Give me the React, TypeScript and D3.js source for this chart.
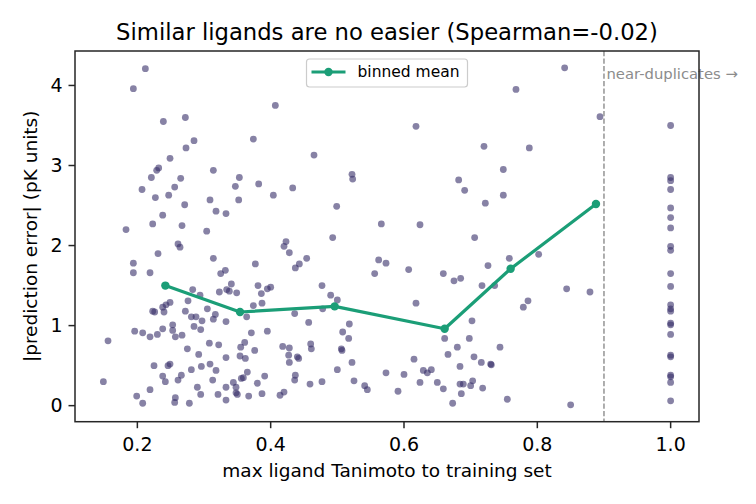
import React from 'react';
import * as d3 from 'd3';

// max ligand Tanimoto to training set (x) for the non-duplicate ligands
const tanimoto = [
  0.212, 0.194, 0.407, 0.239, 0.272, 0.374, 0.285, 0.273, 0.249, 0.465,
  0.232, 0.229, 0.314, 0.221, 0.265, 0.353, 0.522, 0.523, 0.207, 0.256,
  0.347, 0.382, 0.433, 0.227, 0.247, 0.309, 0.352, 0.404, 0.271, 0.499,
  0.318, 0.333, 0.238, 0.223, 0.267, 0.566, 0.183, 0.304, 0.493, 0.261,
  0.264, 0.423, 0.420, 0.428, 0.231, 0.314, 0.454, 0.443, 0.437, 0.377,
  0.562, 0.573, 0.194, 0.194, 0.219, 0.332, 0.325, 0.556, 0.341, 0.381,
  0.400, 0.395, 0.386, 0.334, 0.338, 0.323, 0.349, 0.283, 0.294, 0.477,
  0.490, 0.500, 0.276, 0.249, 0.243, 0.238, 0.240, 0.226, 0.223, 0.272,
  0.281, 0.288, 0.305, 0.317, 0.314, 0.297, 0.333, 0.374, 0.387, 0.364,
  0.436, 0.478, 0.457, 0.518, 0.238, 0.253, 0.196, 0.208, 0.230, 0.219,
  0.253, 0.257, 0.267, 0.285, 0.295, 0.371, 0.395, 0.508, 0.517, 0.156,
  0.275, 0.308, 0.322, 0.355, 0.361, 0.376, 0.418, 0.428, 0.460, 0.461,
  0.506, 0.507, 0.292, 0.333, 0.354, 0.362, 0.427, 0.440, 0.442, 0.428,
  0.522, 0.225, 0.246, 0.249, 0.281, 0.296, 0.309, 0.318, 0.365, 0.500,
  0.573, 0.238, 0.242, 0.261, 0.266, 0.313, 0.356, 0.359, 0.344, 0.391,
  0.380, 0.437, 0.436, 0.459, 0.477, 0.525, 0.541, 0.545, 0.149, 0.219,
  0.199, 0.208, 0.257, 0.256, 0.278, 0.290, 0.295, 0.321, 0.333, 0.333,
  0.348, 0.348, 0.350, 0.367, 0.387, 0.414, 0.420,
  0.841, 0.768, 0.894, 0.618, 0.720, 0.788, 0.749, 0.682, 0.691, 0.749,
  0.722, 0.624, 0.706, 0.802, 0.758, 0.726, 0.607, 0.659, 0.675, 0.685,
  0.717, 0.736, 0.844, 0.879, 0.618, 0.786, 0.779, 0.702, 0.661, 0.698,
  0.680, 0.666, 0.744, 0.615, 0.705, 0.716, 0.730, 0.731, 0.684, 0.629,
  0.635, 0.641, 0.600, 0.624, 0.650, 0.659, 0.684, 0.689, 0.703, 0.700,
  0.718, 0.686, 0.591, 0.673, 0.755, 0.850,
];

// |prediction error| in pK units, same order as tanimoto
const absError = [
  4.21, 3.96, 3.75, 3.55, 3.60, 3.33, 3.31, 3.22, 3.09, 3.13,
  2.97, 2.94, 2.94, 2.85, 2.84, 2.85, 2.89, 2.83, 2.70, 2.73,
  2.74, 2.77, 2.72, 2.60, 2.63, 2.57, 2.57, 2.63, 2.51, 2.49,
  2.43, 2.40, 2.38, 2.27, 2.25, 2.27, 2.20, 2.18, 2.10, 2.02,
  1.98, 2.05, 1.99, 1.91, 1.90, 1.84, 1.84, 1.77, 1.72, 1.77,
  1.82, 1.78, 1.78, 1.66, 1.66, 1.69, 1.65, 1.65, 1.52, 1.50,
  1.48, 1.46, 1.40, 1.45, 1.43, 1.42, 1.41, 1.45, 1.38, 1.50,
  1.38, 1.32, 1.31, 1.29, 1.26, 1.23, 1.17, 1.17, 1.18, 1.18,
  1.11, 1.11, 1.21, 1.14, 1.08, 1.06, 1.05, 1.25, 1.28, 1.11,
  1.15, 1.21, 1.04, 1.02, 0.96, 1.01, 0.93, 0.91, 0.89, 0.86,
  0.94, 0.86, 0.88, 0.99, 0.95, 0.91, 0.93, 0.92, 0.84, 0.81,
  0.71, 0.78, 0.76, 0.73, 0.79, 0.69, 0.74, 0.72, 0.77, 0.71,
  0.71, 0.69, 0.64, 0.60, 0.62, 0.59, 0.63, 0.61, 0.59, 0.54,
  0.54, 0.50, 0.50, 0.52, 0.45, 0.49, 0.52, 0.44, 0.42, 0.45,
  0.41, 0.37, 0.30, 0.32, 0.38, 0.32, 0.34, 0.35, 0.29, 0.37,
  0.28, 0.38, 0.32, 0.27, 0.30, 0.31, 0.25, 0.20, 0.30, 0.20,
  0.12, 0.03, 0.10, 0.04, 0.03, 0.23, 0.14, 0.14, 0.23, 0.07,
  0.23, 0.16, 0.14, 0.12, 0.15, 0.13, 0.17,
  4.22, 3.95, 3.61, 3.49, 3.24, 3.22, 2.95, 2.82, 2.69, 2.63,
  2.53, 2.26, 2.10, 1.89, 1.84, 1.75, 1.70, 1.65, 1.56, 1.59,
  1.50, 1.50, 1.46, 1.42, 1.28, 1.31, 1.23, 1.06, 0.84, 0.84,
  0.73, 0.64, 0.73, 0.58, 0.61, 0.54, 0.52, 0.51, 0.49, 0.44,
  0.41, 0.45, 0.39, 0.29, 0.29, 0.21, 0.27, 0.27, 0.31, 0.25,
  0.22, 0.15, 0.18, 0.03, 0.08, 0.01,
];

// near-duplicates, all at Tanimoto = 1.0
const dupTanimoto = 1.0;
const dupError = [
  3.50, 2.85, 2.81, 2.70, 2.47, 2.35, 2.22, 1.99, 1.94, 1.65, 1.49, 1.26,
  1.21, 1.18, 1.03, 1.01, 0.89, 0.63, 0.61, 0.38, 0.36, 0.29, 0.06,
];

// binned mean curve
const binX = [0.242, 0.354, 0.496, 0.661, 0.760, 0.888];
const binMean = [1.50, 1.17, 1.24, 0.96, 1.71, 2.52];

const xTicks = [0.2, 0.4, 0.6, 0.8, 1.0];
const yTicks = [0, 1, 2, 3, 4];
const dupThreshold = 0.9;

const W = 756;
const H = 504;
const margin = { left: 75, right: 57, top: 51, bottom: 82.3 };
const FONT = '"DejaVu Sans", sans-serif';

// matplotlib style 5% padding
function padded(vals: number[]): [number, number] {
  const [lo, hi] = d3.extent(vals) as [number, number];
  const p = (hi - lo) * 0.05;
  return [lo - p, hi + p];
}

export default function App() {
  const allX = [...tanimoto, dupTanimoto];
  const allY = [...absError, ...dupError];

  const x = d3.scaleLinear().domain(padded(allX)).range([margin.left, W - margin.right]);
  const y = d3.scaleLinear().domain(padded(allY)).range([H - margin.bottom, margin.top]);

  const x0 = margin.left;
  const x1 = W - margin.right;
  const y0 = H - margin.bottom;
  const y1 = margin.top;

  const pts = tanimoto.map((t, i) => ({ t, e: absError[i] }))
    .concat(dupError.map(e => ({ t: dupTanimoto, e })));

  const line = d3.line<number>()
    .x((_, i) => x(binX[i]))
    .y(d => y(d));

  const lineColor = '#1b9e77';
  const legW = 161;
  const legCx = (x0 + x1) / 2;
  const legX = legCx - legW / 2;
  const legY = y1 + 8;

  return (
    <svg width={W} height={H} style={{ position: 'absolute', left: 0, top: 0, background: '#fff' }}
      fontFamily={FONT}>
      <rect x={0} y={0} width={W} height={H} fill="#fff" />

      {/* scatter */}
      <g>
        {pts.map((p, i) => (
          <circle key={i} cx={x(p.t)} cy={y(p.e)} r={3.4} fill="#372f69" fillOpacity={0.6} />
        ))}
      </g>

      {/* near-duplicate threshold */}
      <line x1={x(dupThreshold)} x2={x(dupThreshold)} y1={y1} y2={y0}
        stroke="#8c8c8c" strokeWidth={1.4} strokeDasharray="5.2,2.3" />
      <text x={x(dupThreshold) + 2.5} y={y(4.08)} fontSize={14.8} fill="#8c8c8c">near-duplicates →</text>

      {/* binned mean */}
      <path d={line(binMean) || ''} fill="none" stroke={lineColor} strokeWidth={3.2} strokeLinejoin="round" />
      {binMean.map((m, i) => (
        <circle key={i} cx={x(binX[i])} cy={y(m)} r={4.2} fill={lineColor} />
      ))}

      {/* axes frame */}
      <rect x={x0} y={y1} width={x1 - x0} height={y0 - y1} fill="none" stroke="#262626" strokeWidth={1.5} />

      {/* x ticks */}
      {xTicks.map(t => (
        <g key={t}>
          <line x1={x(t)} x2={x(t)} y1={y0} y2={y0 + 6.5} stroke="#262626" strokeWidth={1.5} />
          <text x={x(t)} y={y0 + 29} textAnchor="middle" fontSize={19} fill="#000">{t.toFixed(1)}</text>
        </g>
      ))}
      {/* y ticks */}
      {yTicks.map(t => (
        <g key={t}>
          <line x1={x0 - 6.5} x2={x0} y1={y(t)} y2={y(t)} stroke="#262626" strokeWidth={1.5} />
          <text x={x0 - 12.5} y={y(t)} dy="0.36em" textAnchor="end" fontSize={19} fill="#000">{t}</text>
        </g>
      ))}

      {/* labels */}
      <text x={(x0 + x1) / 2} y={477} textAnchor="middle" fontSize={18.5} fill="#000">
        max ligand Tanimoto to training set
      </text>
      <text transform={`translate(37, ${(y0 + y1) / 2}) rotate(-90)`} textAnchor="middle" fontSize={18.5} fill="#000">
        |prediction error| (pK units)
      </text>
      <text x={(x0 + x1) / 2} y={39.5} textAnchor="middle" fontSize={22.7} fill="#000">
        Similar ligands are no easier (Spearman=-0.02)
      </text>

      {/* legend */}
      <g>
        <rect x={legX} y={legY} width={legW} height={28} rx={3} fill="#fff" fillOpacity={0.8}
          stroke="#cccccc" strokeWidth={1.2} />
        <line x1={legX + 5} x2={legX + 39} y1={legY + 13} y2={legY + 13} stroke={lineColor} strokeWidth={3.2} />
        <circle cx={legX + 22} cy={legY + 13} r={4.2} fill={lineColor} />
        <text x={legX + 51} y={legY + 18.3} fontSize={15.5} fill="#000">binned mean</text>
      </g>
    </svg>
  );
}
